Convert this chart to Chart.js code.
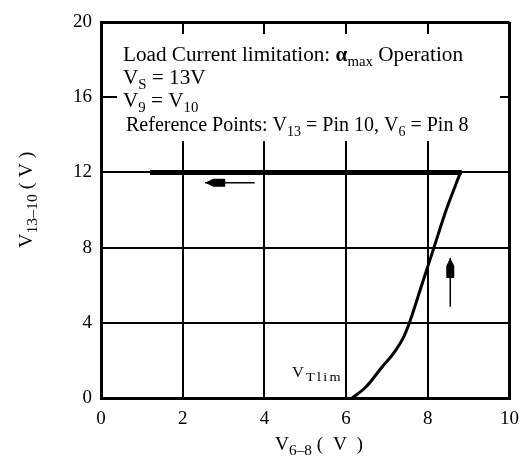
<!DOCTYPE html>
<html>
<head>
<meta charset="utf-8">
<script src="https://cdn.jsdelivr.net/npm/chart.js@4.4.1/dist/chart.umd.min.js"></script>
<style>
  html, body { margin: 0; padding: 0; background: #fff; }
  #wrap { width: 529px; height: 467px; }
</style>
</head>
<body>
<div id="wrap"><canvas id="chart"></canvas></div>
<script>
// axis ticks
var xTicks = [0, 2, 4, 6, 8, 10]
var yTicks = [0, 4, 8, 12, 16, 20]

// thick limitation line at 12 V
var limitX = [1.2, 8.83]
var limitY = [12, 12]

// rising branch from V_Tlim up to the limit
var riseX = [6.15, 6.49, 6.88, 7.17, 7.41, 7.55, 7.85, 8.15, 8.45, 8.8]
var riseY = [0, 0.6, 1.65, 2.4, 3.25, 4.0, 6.0, 8.0, 10.0, 12.0]

// direction arrows (tail -> tip)
var arrowLeftX = [3.76, 2.55]
var arrowLeftY = [11.45, 11.45]
var arrowUpX = [8.55, 8.55]
var arrowUpY = [4.85, 7.45]

function toPoints(xs, ys){
    return xs.map((x, i) => ({x: x, y: ys[i]}))
}

var SERIF = '"Liberation Serif", "DejaVu Serif", serif'

// draws text made of normal / subscript / bold pieces
function drawRich(ctx, x, y, parts, size, sx, subRatio){
    subRatio = subRatio || 0.72
    ctx.save()
    ctx.translate(x, y)
    ctx.scale(sx || 1, 1)
    var cx = 0
    parts.forEach(p => {
        var t = p[0], kind = p[1] || 'n'
        if (kind == 'sub') {
            ctx.font = Math.round(size * subRatio) + 'px ' + SERIF
            ctx.fillText(t, cx, size * 0.25)
        } else if (kind == 'b') {
            ctx.font = 'bold ' + size + 'px ' + SERIF
            ctx.fillText(t, cx, 0)
        } else {
            ctx.font = size + 'px ' + SERIF
            ctx.fillText(t, cx, 0)
        }
        cx += ctx.measureText(t).width
    })
    ctx.restore()
    return cx
}

var textPlugin = {
    id: 'textPlugin',
    beforeDatasetsDraw(chart){
        var ctx = chart.ctx
        ctx.save()
        ctx.fillStyle = '#fff'
        ctx.fillRect(117, 34, 383, 107)
        ctx.fillStyle = '#000'
        ctx.textBaseline = 'alphabetic'
        ctx.textAlign = 'left'
        var sx = 1.06
        drawRich(ctx, 123, 61, [['Load Current limitation: '], ['\u03b1', 'b'], ['max', 'sub'], [' Operation']], 20, sx)
        drawRich(ctx, 123, 84, [['V'], ['S', 'sub'], [' = 13V']], 20, sx)
        drawRich(ctx, 123, 107, [['V'], ['9', 'sub'], [' = V'], ['10', 'sub']], 20, sx)
        drawRich(ctx, 126, 131, [['Reference Points: V'], ['13', 'sub'], [' = Pin 10, V'], ['6', 'sub'], [' = Pin 8']], 20, 1.0)
        ctx.letterSpacing = '2px'
        drawRich(ctx, 292, 377, [['V'], ['Tlim', 'sub']], 15, 1.1, 0.85)
        ctx.restore()
    },
    afterDatasetsDraw(chart){
        var ctx = chart.ctx
        var xs = chart.scales.x, ys = chart.scales.y
        // arrow heads
        ;[[arrowLeftX, arrowLeftY], [arrowUpX, arrowUpY]].forEach(a => {
            var x0 = xs.getPixelForValue(a[0][0]), y0 = ys.getPixelForValue(a[1][0])
            var x1 = xs.getPixelForValue(a[0][1]), y1 = ys.getPixelForValue(a[1][1])
            var ang = Math.atan2(y1 - y0, x1 - x0)
            ctx.save()
            ctx.translate(x1, y1)
            ctx.rotate(ang)
            ctx.fillStyle = '#000'
            ctx.beginPath()
            ctx.moveTo(0, 0)
            ctx.lineTo(-8, -4)
            ctx.lineTo(-20, -4)
            ctx.lineTo(-20, 4)
            ctx.lineTo(-8, 4)
            ctx.closePath()
            ctx.fill()
            ctx.restore()
        })
        // axis titles
        ctx.save()
        ctx.fillStyle = '#000'
        drawRich(ctx, 275, 450, [['V'], ['6\u20138', 'sub'], [' (  V  )']], 19, 1.02, 0.8)
        ctx.translate(32, 248)
        ctx.rotate(-Math.PI / 2)
        drawRich(ctx, 0, 0, [['V'], ['13\u201310', 'sub'], [' ( V )']], 19, 1.05, 0.8)
        ctx.restore()
    }
}

Chart.defaults.font.family = SERIF
Chart.defaults.font.size = 19
Chart.defaults.color = 'black'

let ctxChart = document.getElementById('chart').getContext('2d')

let chart = new Chart(ctxChart, {
    type: 'line',
    data: {
        datasets: [{
            data: toPoints(limitX, limitY),
            borderColor: '#000',
            borderWidth: 5,
            pointRadius: 0,
            borderCapStyle: 'butt'
        }, {
            data: toPoints(riseX, riseY),
            borderColor: '#000',
            borderWidth: 3,
            pointRadius: 0,
            cubicInterpolationMode: 'monotone'
        }, {
            data: toPoints(arrowLeftX, arrowLeftY),
            borderColor: '#000',
            borderWidth: 1.5,
            pointRadius: 0
        }, {
            data: toPoints(arrowUpX, arrowUpY),
            borderColor: '#000',
            borderWidth: 1.5,
            pointRadius: 0
        }]
    },
    options: {
        responsive: true,
        maintainAspectRatio: false,
        animation: false,
        events: [],
        layout: {
            padding: { left: 0, right: 18, top: 22, bottom: 0 }
        },
        plugins: {
            legend: { display: false },
            tooltip: { enabled: false }
        },
        scales: {
            x: {
                type: 'linear',
                min: 0,
                max: 10,
                afterBuildTicks: s => { s.ticks = xTicks.map(v => ({value: v})) },
                afterFit: s => { s.height = 69 },
                ticks: { padding: 10, color: '#000' },
                grid: {
                    color: '#000',
                    lineWidth: c => (c.tick && c.tick.value == 10 ? 3 : 2),
                    drawTicks: false
                },
                border: { color: '#000', width: 3 }
            },
            y: {
                type: 'linear',
                min: 0,
                max: 20,
                afterBuildTicks: s => { s.ticks = yTicks.map(v => ({value: v})) },
                afterFit: s => { s.width = 101 },
                ticks: { padding: 9, color: '#000' },
                grid: {
                    color: '#000',
                    lineWidth: c => (c.tick && c.tick.value == 20 ? 3 : 2),
                    drawTicks: false
                },
                border: { color: '#000', width: 3 }
            }
        }
    },
    plugins: [textPlugin]
})
</script>
</body>
</html>
